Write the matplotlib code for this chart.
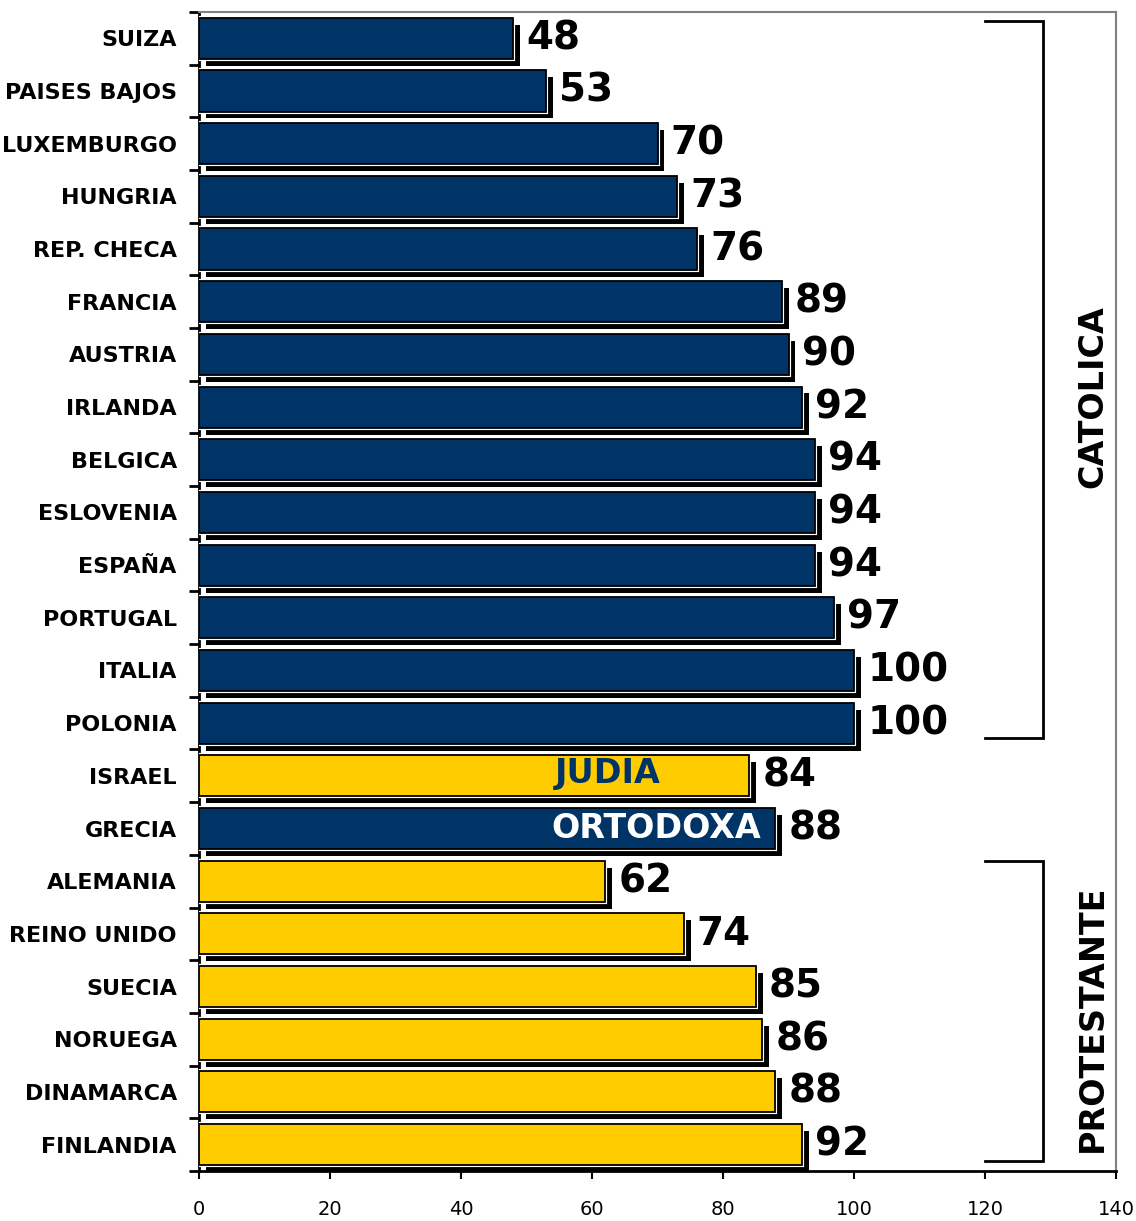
import matplotlib
matplotlib.use("Agg")
import matplotlib.pyplot as plt
import matplotlib.patheffects as pe
import numpy as np

countries = ["SUIZA", "PAISES BAJOS", "LUXEMBURGO", "HUNGRIA", "REP. CHECA", "FRANCIA",
             "AUSTRIA", "IRLANDA", "BELGICA", "ESLOVENIA", "ESPAÑA", "PORTUGAL", "ITALIA",
             "POLONIA", "ISRAEL", "GRECIA", "ALEMANIA", "REINO UNIDO", "SUECIA", "NORUEGA",
             "DINAMARCA", "FINLANDIA"]
values = [48, 53, 70, 73, 76, 89, 90, 92, 94, 94, 94, 97, 100, 100, 84, 88, 62, 74, 85, 86, 88, 92]
groups = ["C"] * 14 + ["J", "O"] + ["P"] * 6
xticks = [0, 20, 40, 60, 80, 100, 120, 140]

NAVY = "#003366"
GOLD = "#FFCC00"
color_map = {"C": NAVY, "O": NAVY, "J": GOLD, "P": GOLD}

fig = plt.figure(figsize=(11.36, 12.21), dpi=100)
ax = fig.add_axes([0.1752, 0.041, 0.8072, 0.9492])

y = np.arange(len(countries))
cols = [color_map[g] for g in groups]
bars = ax.barh(y, values, height=0.78, color=cols, edgecolor="black", linewidth=1.3, zorder=3)
for b in bars:
    b.set_path_effects([pe.SimplePatchShadow(offset=(5, -5), shadow_rgbFace="black", alpha=1.0),
                        pe.Stroke(linewidth=3.0, foreground="white"),
                        pe.Normal()])

for yi, v in zip(y, values):
    ax.text(v + 2.0, yi, str(v), va="center", ha="left", fontsize=28, fontweight="bold",
            family="DejaVu Sans", color="black", zorder=4)

ax.set_xlim(0, 140)
ax.set_ylim(len(countries) - 0.5, -0.5)

ax.set_yticks(np.arange(-0.5, len(countries), 1.0))
ax.set_yticklabels([])
ax.set_yticks(y, minor=True)
ax.set_yticklabels(countries, minor=True, fontsize=16, fontweight="bold", family="DejaVu Sans")
ax.tick_params(axis="y", which="minor", length=0, pad=16)
ax.tick_params(axis="y", which="major", length=7, width=2, direction="out")

ax.set_xticks(xticks)
ax.set_xticklabels([str(t) for t in xticks], fontsize=14, family="DejaVu Sans")
ax.tick_params(axis="x", length=6, width=1.5, direction="out", pad=15)

for s in ["left", "bottom"]:
    ax.spines[s].set_color("black")
    ax.spines[s].set_linewidth(2)
for s in ["top", "right"]:
    ax.spines[s].set_color("#808080")
    ax.spines[s].set_linewidth(1.5)

# brackets
def bracket(y0, y1):
    ax.plot([120, 128.9, 128.9, 120], [y0, y0, y1, y1], color="black", lw=2,
            solid_joinstyle="miter", zorder=4, clip_on=False)

bracket(-0.32, 13.28)
bracket(15.62, 21.32)

ax.text(136.4, 6.8, "CATOLICA", rotation=90, va="center", ha="center", fontsize=24,
        fontweight="bold", family="DejaVu Sans")
ax.text(136.4, 18.6, "PROTESTANTE", rotation=90, va="center", ha="center", fontsize=24,
        fontweight="bold", family="DejaVu Sans")

ax.text(62.4, 14 - 0.05, "JUDIA", va="center", ha="center", fontsize=24, fontweight="bold",
        family="DejaVu Sans", color=NAVY, zorder=5)
ax.text(69.8, 15, "ORTODOXA", va="center", ha="center", fontsize=24, fontweight="bold",
        family="DejaVu Sans", color="white", zorder=5)

fig.savefig("out.png", dpi=100)
